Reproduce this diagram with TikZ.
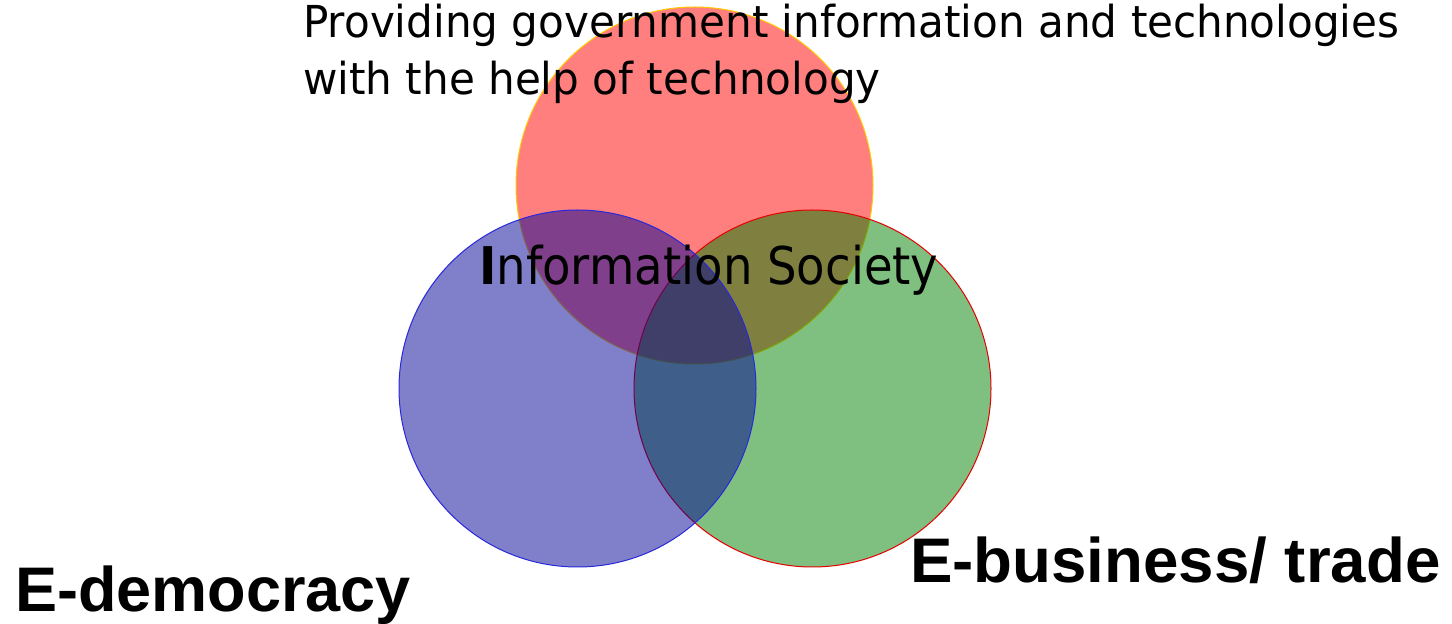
\documentclass[tikz,border=0pt]{standalone}
\usepackage{fontspec}
\setmainfont{DejaVu Sans}
\newfontfamily\arialfont{Liberation Sans}
\definecolor{vred}{RGB}{255,0,0}
\definecolor{vgreen}{RGB}{0,128,0}
\definecolor{vblue}{RGB}{0,0,150}
\definecolor{redline}{RGB}{255,200,0}
\definecolor{greenline}{RGB}{230,0,0}
\definecolor{blueline}{RGB}{40,40,220}
\begin{document}
\begin{tikzpicture}[x=1pt,y=1pt,
  venn/.style={circle, minimum size=357pt, inner sep=0pt, fill opacity=0.5, draw opacity=1, line width=1pt},
  toptext/.style={inner sep=0pt, anchor=base west, font=\fontsize{44}{52}\selectfont},
  midtext/.style={inner sep=0pt, anchor=base west, font=\fontsize{52}{60}\selectfont},
  bigtext/.style={inner sep=0pt, anchor=base west, font=\arialfont\bfseries\fontsize{63}{70}\selectfont}]
\useasboundingbox (0,0) rectangle (1452,624);
\fill[white] (0,0) rectangle (1452,624);
\node[venn, fill=vred, draw=redline] (red) at (694.5,438.5) {};
\node[venn, fill=vgreen, draw=greenline] (green) at (812.5,235.5) {};
\node[venn, fill=vblue, draw=blueline] (blue) at (577.5,235.5) {};
\node[toptext] (line1) at (303,586) {\scalebox{0.957}[1]{Providing government information and technologies}};
\node[toptext] (line2) at (303,529) {\scalebox{0.957}[1]{with the help of technology}};
\node[midtext] (society) at (479,339) {\scalebox{0.896}[1]{\textbf{I}nformation Society}};
\node[bigtext] (edem) at (15,12) {E-democracy};
\node[bigtext] (ebus) at (910,41) {\scalebox{1.01}[1]{E-business/ trade}};
\end{tikzpicture}
\end{document}
